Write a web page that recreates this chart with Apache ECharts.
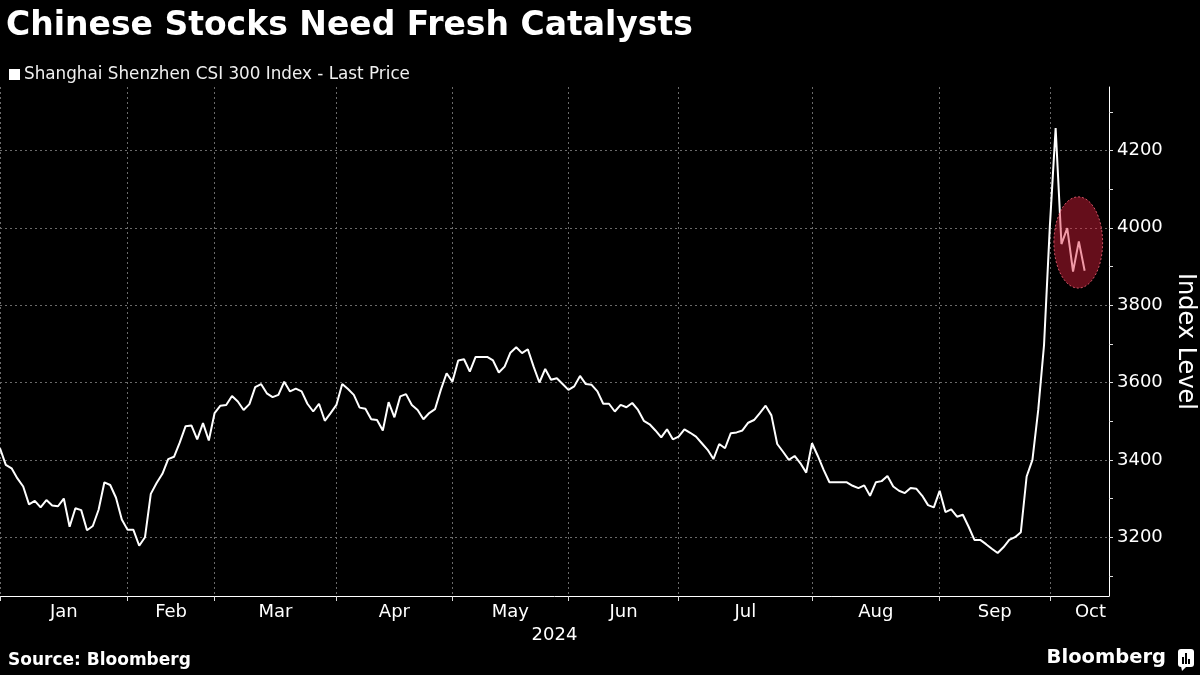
<!DOCTYPE html>
<html><head><meta charset="utf-8">
<script src="https://cdn.jsdelivr.net/npm/echarts@6/dist/echarts.min.js"></script>
<style>html,body{margin:0;padding:0;background:#000;}#c{width:1200px;height:675px;}</style>
</head><body><div id="c"></div>
<script>
const titleText = 'Chinese Stocks Need Fresh Catalysts';
const seriesName = 'Shanghai Shenzhen CSI 300 Index - Last Price';
const sourceText = 'Source: Bloomberg';
const yAxisName = 'Index Level';
const xAxisName = '2024';

// Daily closes, one per trading day from 29 Dec 2023 to 15 Oct 2024
const values = [
  3430,3387,3378,3352,3331,3285,3294,3277,3296,3282,3280,3300,3227,3275,3270,3218,3229,3271,3342,3335,
  3302,3246,3219,3219,3178,3200,3312,3340,3364,3402,3408,3445,3487,3489,3453,3495,3450,3521,3540,3542,
  3565,3551,3529,3544,3588,3596,3572,3562,3568,3602,3577,3584,3577,3545,3525,3545,3501,3521,3542,3596,
  3583,3568,3535,3532,3505,3503,3476,3549,3510,3564,3570,3542,3529,3505,3521,3531,3581,3624,3602,3657,
  3660,3628,3666,3666,3666,3657,3626,3641,3677,3691,3676,3686,3641,3600,3635,3607,3611,3596,3581,3590,
  3617,3596,3594,3577,3545,3545,3525,3542,3536,3547,3529,3501,3492,3476,3458,3479,3453,3460,3479,3470,
  3460,3443,3426,3402,3441,3430,3469,3471,3476,3496,3503,3521,3540,3515,3441,3421,3400,3410,3391,3367,
  3443,3410,3374,3342,3342,3342,3342,3333,3327,3334,3307,3342,3345,3358,3331,3320,3314,3327,3325,3307,
  3283,3277,3320,3265,3272,3253,3258,3227,3193,3193,3182,3170,3159,3174,3193,3200,3213,3357,3400,3529,
  3697,4003,4258,3958,3999,3887,3965,3889
];

// Month boundaries (trading-day index of the last session of the previous month)
const monthNames = ['Jan','Feb','Mar','Apr','May','Jun','Jul','Aug','Sep','Oct'];
const monthBoundaries = [0,22,37,58,78,98,117,140,162,181];
const monthLabelAt = [11,29.5,47.5,68,88,107.5,128.5,151,171.5,188];
const xMin = 0, xMax = 191.2;

const yMin = 3048, yMax = 4364;
const yLabelValues = [3200,3400,3600,3800,4000,4200];
const yTickValues = [3100,3200,3300,3400,3500,3600,3700,3800,3900,4000,4100,4200,4300];

// Highlighted region (data units)
const highlight = {index: 185.9, value: 3962, halfWidth: 4.2, halfHeight: 118};

const FONT = 'DejaVu Sans';
const chart = echarts.init(document.getElementById('c'), null, {renderer: 'canvas'});

const option = {
  backgroundColor: '#000',
  animation: false,
  title: {
    text: titleText, left: 1, top: 5,
    textStyle: {color: '#fff', fontFamily: FONT, fontWeight: 'bold', fontSize: 33}
  },
  legend: {
    left: 4, top: 61, icon: 'rect', itemWidth: 11, itemHeight: 11, itemGap: 10,
    textStyle: {color: '#f0f0f0', fontFamily: FONT, fontSize: 16.8, padding: [0,0,0,-1]},
    data: [seriesName]
  },
  grid: {left: 0, right: 91, top: 87, bottom: 79, containLabel: false, outerBoundsMode: 'none'},
  xAxis: {
    type: 'value', min: xMin, max: xMax,
    name: xAxisName, nameLocation: 'middle', nameGap: 30,
    nameTextStyle: {color: '#fff', fontFamily: FONT, fontSize: 18},
    axisLine: {show: true, onZero: false, lineStyle: {color: '#fff', width: 1}},
    axisTick: {show: true, length: 5, customValues: monthBoundaries, lineStyle: {color: '#ddd'}},
    axisLabel: {
      show: true, customValues: monthLabelAt, margin: 7,
      color: '#fff', fontFamily: FONT, fontSize: 18,
      formatter: v => monthNames[monthLabelAt.indexOf(v)] || ''
    },
    splitLine: {show: true, lineStyle: {color: '#6a6a6a', width: 1, type: [2, 3]}}
  },
  yAxis: [{
    type: 'value', position: 'right', min: yMin, max: yMax,
    name: yAxisName, nameLocation: 'middle', nameGap: 64, nameRotate: -90,
    nameTextStyle: {color: '#fff', fontFamily: FONT, fontSize: 24},
    axisLine: {show: true, onZero: false, lineStyle: {color: '#fff', width: 1}},
    axisTick: {show: true, length: 4, customValues: yTickValues, lineStyle: {color: '#ddd'}},
    axisLabel: {show: true, customValues: yLabelValues, margin: 8, color: '#fff', fontFamily: FONT, fontSize: 18,
      formatter: v => String(v)},
    splitLine: {show: false}
  }, {
    type: 'value', position: 'right', min: yMin, max: yMax,
    axisLine: {show: false, onZero: false},
    axisTick: {show: false, customValues: yLabelValues},
    axisLabel: {show: false},
    splitLine: {show: true, lineStyle: {color: '#6a6a6a', width: 1, type: [2, 3]}}
  }],
  series: [{
    name: seriesName, type: 'line', xAxisIndex: 0, yAxisIndex: 0,
    showSymbol: false, symbol: 'none',
    itemStyle: {color: '#fff'},
    lineStyle: {color: '#fff', width: 2},
    data: values.map((v, i) => [i, v]),
    z: 3
  }]
};
chart.setOption(option);

const c = chart.convertToPixel({xAxisIndex: 0, yAxisIndex: 0}, [highlight.index, highlight.value]);
const e = chart.convertToPixel({xAxisIndex: 0, yAxisIndex: 0}, [highlight.index + highlight.halfWidth, highlight.value + highlight.halfHeight]);

chart.setOption({
  graphic: [
    {type: 'ellipse', z: 100, silent: true,
     shape: {cx: c[0], cy: c[1], rx: Math.abs(e[0] - c[0]), ry: Math.abs(c[1] - e[1])},
     style: {fill: 'rgba(225,30,60,0.45)', stroke: 'rgba(255,110,130,0.75)', lineWidth: 1, lineDash: [2, 2]}},
    {type: 'text', z: 100, left: 8, top: 652,
     style: {text: sourceText, fill: '#fff', font: 'bold 17px "DejaVu Sans"'}},
    {type: 'text', z: 100, right: 34, top: 648,
     style: {text: 'Bloomberg', fill: '#fff', font: 'bold 19.5px "DejaVu Sans"'}},
    {type: 'group', z: 100, right: 6, top: 649, children: [
      {type: 'rect', shape: {x: 0, y: 0, width: 16, height: 18, r: 3}, style: {fill: '#fff'}},
      {type: 'polygon', shape: {points: [[3, 17], [9, 17], [4, 22]]}, style: {fill: '#fff'}},
      {type: 'rect', shape: {x: 4, y: 8, width: 2, height: 7}, style: {fill: '#000'}},
      {type: 'rect', shape: {x: 7, y: 4, width: 2, height: 11}, style: {fill: '#000'}},
      {type: 'rect', shape: {x: 10, y: 10, width: 2, height: 5}, style: {fill: '#000'}}
    ]}
  ]
});
</script>
</body></html>
